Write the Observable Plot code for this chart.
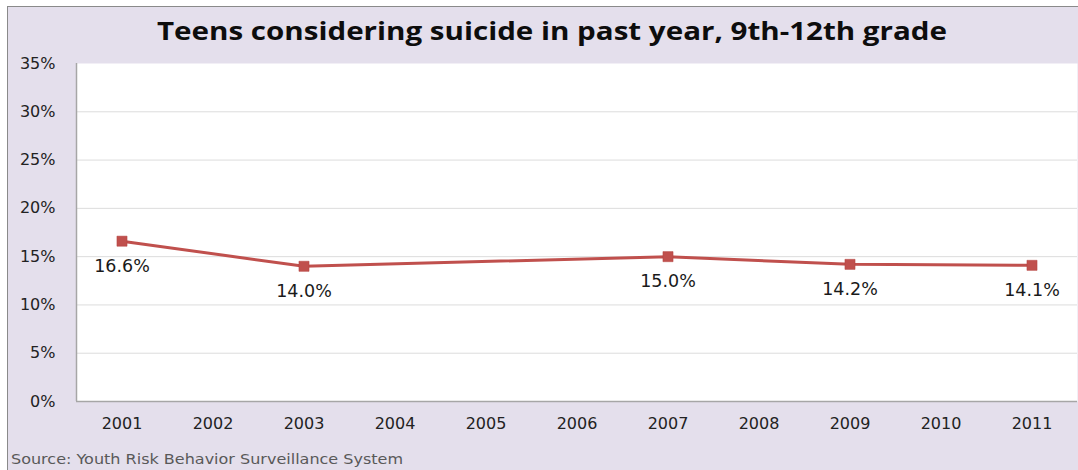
<!DOCTYPE html>
<html>
<head>
<meta charset="utf-8">
<script src="https://cdn.jsdelivr.net/npm/d3@7"></script>
<script src="https://cdn.jsdelivr.net/npm/@observablehq/plot@0.6"></script>
<style>
  html, body { margin: 0; padding: 0; background: #ffffff; }
  #card {
    position: absolute; left: 7px; top: 6px; width: 1071px; height: 464px;
    background: #e4dfec; border-top: 1.5px solid #8a8a8a; border-left: 1.5px solid #8a8a8a;
    box-sizing: border-box; overflow: hidden;
  }
  #title {
    position: relative; height: 46px;
  }
  #title span {
    position: absolute; left: 545px; top: 8px; white-space: nowrap;
    font-family: "Open Sans", Lato, sans-serif; font-weight: 700; font-size: 25px; line-height: 30px; color: #0d0d0d;
    transform-origin: 0 50%;
  }
  #chart svg { display: block; }
  #source {
    position: relative; height: 30px; margin-top: 2px;
  }
  #source span {
    position: absolute; left: 3px; top: 8px; white-space: nowrap;
    font-family: "DejaVu Sans", sans-serif; font-size: 14px; line-height: 20px; color: #595959;
    transform-origin: 0 50%;
  }
  svg text.lbl { letter-spacing: 0.6px; }
</style>
</head>
<body>
<div id="card">
  <div id="title"><span>Teens considering suicide in past year, 9th-12th grade</span></div>
  <div id="chart"></div>
  <div id="source"><span>Source: Youth Risk Behavior Surveillance System</span></div>
</div>
<script>
const years = [2001, 2003, 2007, 2009, 2011];
const rates = [0.166, 0.140, 0.150, 0.142, 0.141];
const labels = ["16.6%", "14.0%", "15.0%", "14.2%", "14.1%"];
const yearTicks = [2001, 2002, 2003, 2004, 2005, 2006, 2007, 2008, 2009, 2010, 2011];
const pctTicks = [0, 0.05, 0.10, 0.15, 0.20, 0.25, 0.30, 0.35];
const xDomain = [2000.5, 2011.5];
const yDomain = [0, 0.35];

const data = years.map((y, i) => ({ year: y, rate: rates[i], label: labels[i] }));

const chart = Plot.plot({
  width: 1070,
  height: 386,
  marginLeft: 68,
  marginRight: 1,
  marginTop: 10,
  marginBottom: 38,
  style: { background: "transparent", fontFamily: "DejaVu Sans, sans-serif", fontSize: "16px", color: "#222" },
  x: { domain: xDomain, ticks: yearTicks, tickFormat: d3.format("d"), tickSize: 0, tickPadding: 16, label: null },
  y: { domain: yDomain, ticks: pctTicks, tickFormat: d3.format(".0%"), tickSize: 0, tickPadding: 21, label: null },
  marks: [
    Plot.frame({ fill: "white", stroke: null }),
    Plot.ruleY(pctTicks.slice(1, -1), { stroke: "#dcdcdc", strokeWidth: 1 }),
    Plot.ruleY([yDomain[0]], { stroke: "#a6a6a6", strokeWidth: 1.5 }),
    Plot.ruleX([xDomain[0]], { stroke: "#a6a6a6", strokeWidth: 1.5 }),
    Plot.line(data, { x: "year", y: "rate", stroke: "#c0504d", strokeWidth: 3 }),
    Plot.dot(data, { x: "year", y: "rate", symbol: "square", fill: "#c0504d", stroke: "#b5433f", strokeWidth: 0.5, r: 5.7 }),
    Plot.text(data, { x: "year", y: "rate", text: "label", dy: 25, fontSize: 17.5, fill: "#1a1a1a", className: "lbl" })
  ]
});
document.getElementById("chart").appendChild(chart);

// horizontally stretch title and source to the reference's wide lettering
function fit(sel, targetWidth, center) {
  const el = document.querySelector(sel);
  const w = el.getBoundingClientRect().width;
  const s = targetWidth / w;
  el.style.transform = `scaleX(${s})`;
  if (center) el.style.left = (center - targetWidth / 2) + "px";
}
fit("#title span", 790, 552 - 8.5);
fit("#source span", 392, null);
</script>
</body>
</html>
